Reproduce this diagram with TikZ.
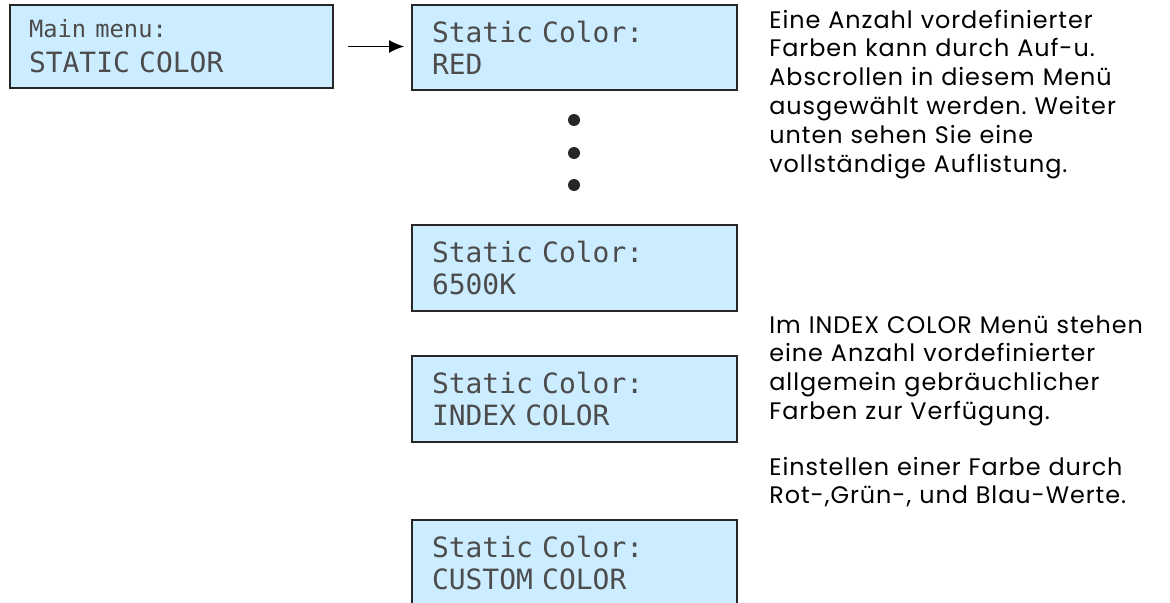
\documentclass[tikz,border=0pt]{standalone}
\usepackage{fontspec}
\setmainfont{Poppins}
\newfontfamily\infofont[LetterSpace=4]{Poppins}
\newfontfamily\lcdfont{DejaVu Sans Mono}
\usepackage{tikz}
\usetikzlibrary{positioning,arrows.meta}
\definecolor{lcdblue}{RGB}{204,236,255}
\frenchspacing

\begin{document}
\begin{tikzpicture}[
x=0.02cm,
y=-0.02cm,
lcd/.style={
  draw=black!85,
  fill=lcdblue,
  line width=1.1pt,
  rectangle,
  minimum width=6.5cm,
  minimum height=1.7cm,
  text width=5.7cm,
  inner xsep=0.4cm,
  align=left,
  text=black!70,
  font=\lcdfont\fontsize{15.9}{18.2}\selectfont
  },
info/.style={
  anchor=base west,
  inner sep=0pt,
  text width=8.2cm,
  align=left,
  font=\infofont\fontsize{13.6}{16.5}\selectfont
  },
listdot/.style={
  circle,
  fill=black!85,
  inner sep=0pt,
  minimum size=0.24cm
  },
>={Latex[length=0.3cm,width=0.26cm]}
]
\useasboundingbox (0,0) rectangle (1170,602);
\clip (0,0) rectangle (1170,602);
% display boxes
\node[lcd, minimum width=6.46cm, minimum height=1.66cm, inner xsep=0.36cm,
  font=\lcdfont\fontsize{15.9}{19.9}\selectfont] (main) at (171.5,46.5)
  {{\fontsize{13.5}{19.9}\selectfont Main menu:}\\STATIC COLOR};
\node[lcd] (red) at (574.5,47.5) {Static Color:\\RED};
\node[lcd, minimum height=1.72cm] (k6500) at (574.5,268) {Static Color:\\6500K};
\node[lcd, minimum height=1.72cm] (index) at (574.5,399) {Static Color:\\INDEX COLOR};
\node[lcd, minimum height=1.72cm] (custom) at (574.5,563) {Static Color:\\CUSTOM COLOR};
% list continues
\foreach \dy [count=\di] in {120,153,185}
  \node[listdot] (dot\di) at (574,\dy) {};
\draw[->, line width=0.8pt, shorten <=0.28cm, shorten >=0.14cm] (main.east) -- (main.east -| red.west);
% explanations
\node[info] (infoA) at (769,28) {Eine Anzahl vordefinierter\\Farben kann durch Auf-u.\\Abscrollen in diesem Menü\\ausgewählt werden. Weiter\\unten sehen Sie eine\\vollständige Auflistung.};
\node[info] (infoB) at (769,333) {Im INDEX COLOR Menü stehen\\eine Anzahl vordefinierter\\allgemein gebräuchlicher\\Farben zur Verfügung.};
\node[info] (infoC) at (769,475) {Einstellen einer Farbe durch\\Rot-,Grün-, und Blau-Werte.};
\end{tikzpicture}
\end{document}
